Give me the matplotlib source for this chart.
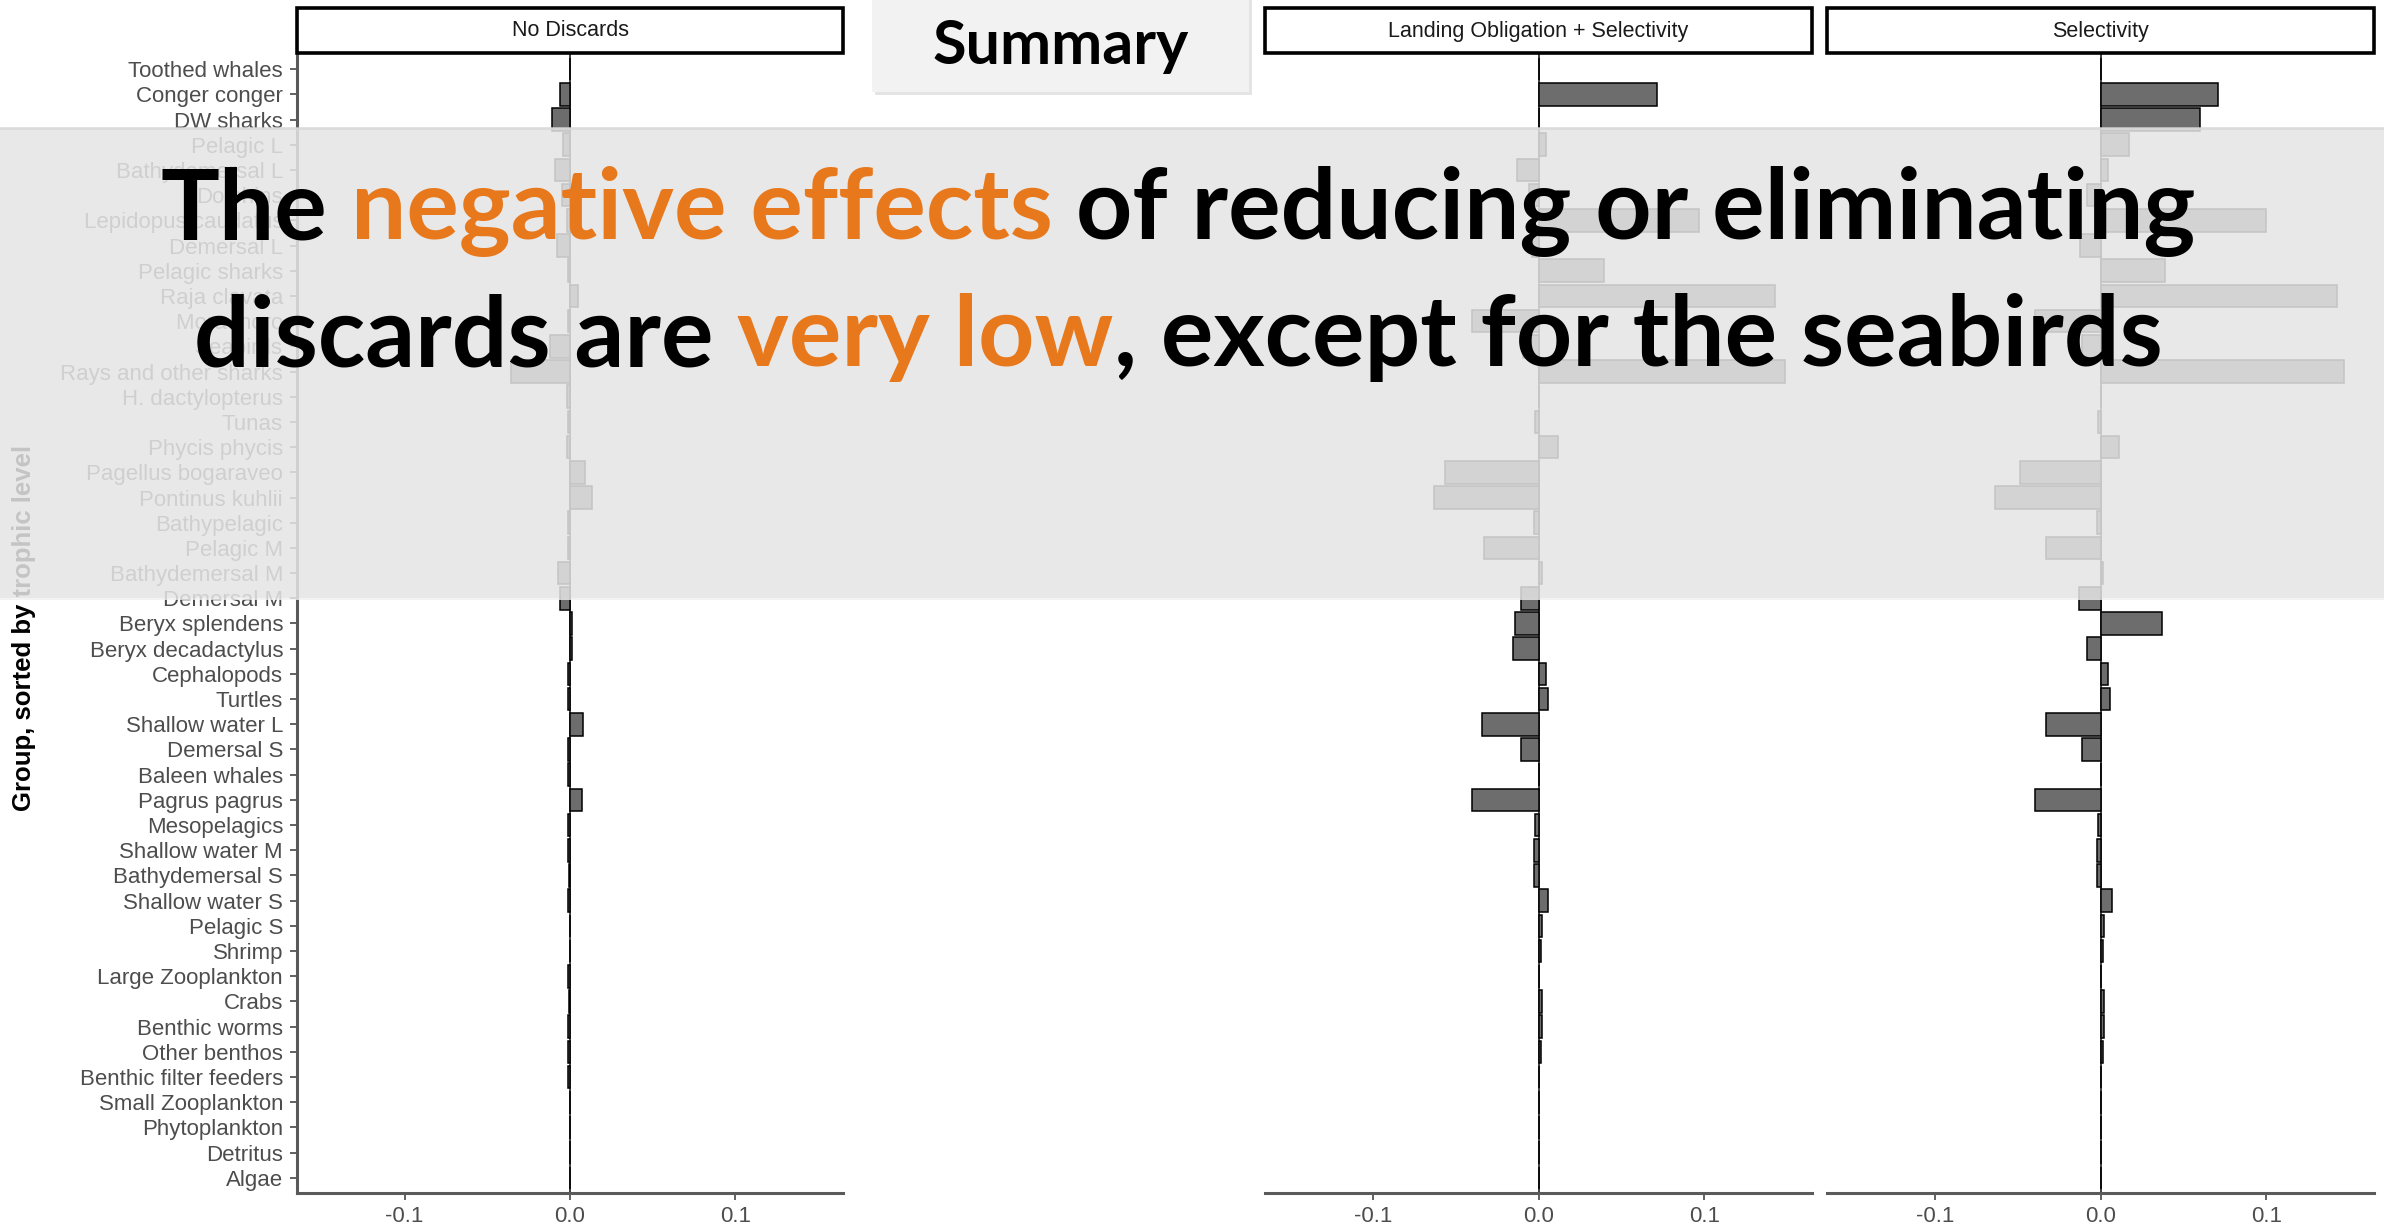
import matplotlib.pyplot as plt
from matplotlib.patches import Rectangle
import numpy as np

# functional groups, sorted by trophic level (top to bottom)
groups = ['Toothed whales', 'Conger conger', 'DW sharks', 'Pelagic L', 'Bathydemersal L',
          'Dolphins', 'Lepidopus caudatus', 'Demersal L', 'Pelagic sharks', 'Raja clavata',
          'Mora moro', 'Seabirds', 'Rays and other sharks', 'H. dactylopterus', 'Tunas',
          'Phycis phycis', 'Pagellus bogaraveo', 'Pontinus kuhlii', 'Bathypelagic', 'Pelagic M',
          'Bathydemersal M', 'Demersal M', 'Beryx splendens', 'Beryx decadactylus', 'Cephalopods',
          'Turtles', 'Shallow water L', 'Demersal S', 'Baleen whales', 'Pagrus pagrus',
          'Mesopelagics', 'Shallow water M', 'Bathydemersal S', 'Shallow water S', 'Pelagic S',
          'Shrimp', 'Large Zooplankton', 'Crabs', 'Benthic worms', 'Other benthos',
          'Benthic filter feeders', 'Small Zooplankton', 'Phytoplankton', 'Detritus', 'Algae']

no_discards = [0, -0.006, -0.011, -0.004, -0.009, -0.005, -0.002, -0.008, -0.001, 0.0046,
               -0.001, -0.012, -0.0355, -0.002, -0.001, -0.002, 0.009, 0.0135, -0.001, -0.001,
               -0.007, -0.006, 0.001, 0.001, -0.001, -0.001, 0.008, -0.001, -0.001, 0.007,
               -0.001, -0.001, -0.0005, -0.001, 0, 0, -0.001, -0.0005, -0.001, -0.001,
               -0.001, 0, 0, 0, 0]

lo_selectivity = [0.0004, 0.0717, 0.0005, 0.0044, -0.0127, -0.006, 0.097, -0.004, 0.0396, 0.1426,
                  -0.040, -0.0096, 0.149, 0, -0.002, 0.0115, -0.0562, -0.0633, -0.003, -0.0331,
                  0.0024, -0.0107, -0.014, -0.0153, 0.0044, 0.0058, -0.0343, -0.0106, 0, -0.0402,
                  -0.002, -0.003, -0.003, 0.0058, 0.0024, 0.0014, 0, 0.0024, 0.0024, 0.0014,
                  0, 0, 0, 0, 0]

selectivity = [0.0004, 0.0709, 0.0598, 0.0169, 0.0046, -0.0084, 0.1, -0.0125, 0.0392, 0.1426,
               -0.0396, -0.0114, 0.1466, 0, -0.0016, 0.0114, -0.0488, -0.0637, -0.0024, -0.0331,
               0.0014, -0.0127, 0.0372, -0.008, 0.0046, 0.0056, -0.0327, -0.0114, 0, -0.0398,
               -0.0016, -0.0024, -0.0024, 0.007, 0.0024, 0.0014, 0, 0.0024, 0.0024, 0.0014,
               0, 0, 0, 0, 0]

panel_titles = ['No Discards', 'Landing Obligation + Selectivity', 'Selectivity']
x_ticks = [-0.1, 0.0, 0.1]
x_ticklabels = ['-0.1', '0.0', '0.1']

headline = [
    [('The ', 'k'), ('negative effects', 'o'), (' of reducing or eliminating', 'k')],
    [('discards are ', 'k'), ('very low', 'o'), (', except for the seabirds', 'k')],
]

W, H = 2384, 1231
fig = plt.figure(figsize=(W / 100, H / 100), dpi=100)
fig.patch.set_facecolor('white')


def fx(px):
    return px / W


def fy(py):
    return 1 - py / H


label_font = ['Liberation Sans', 'DejaVu Sans']
grey_txt = '#4d4d4d'

panel_x = [(297, 843), (1265, 1812), (1827, 2374)]
top, bottom = 54, 1193
ypos = np.arange(len(groups))

for k, (vals, title, (x0, x1)) in enumerate(zip([no_discards, lo_selectivity, selectivity],
                                                 panel_titles, panel_x)):
    ax = fig.add_axes([fx(x0), fy(bottom), fx(x1 - x0), (bottom - top) / H])
    ax.barh(ypos, vals, height=0.9, color='#6d6d6d', edgecolor='black', linewidth=1.1, zorder=3)
    ax.axvline(0, color='#303030', lw=1.3, zorder=2)
    ax.set_xlim(-0.165, 0.165)
    ax.set_ylim(len(groups) - 0.4, -0.6)
    for s in ['top', 'right']:
        ax.spines[s].set_visible(False)
    ax.spines['bottom'].set_color('#5a5a5a')
    ax.spines['bottom'].set_linewidth(2.2)
    ax.set_xticks(x_ticks)
    ax.set_xticklabels(x_ticklabels, family=label_font, fontsize=16, color=grey_txt)
    ax.tick_params(axis='x', length=5, width=1.3, color='#555555', pad=4)
    if k == 0:
        ax.spines['left'].set_color('#5a5a5a')
        ax.spines['left'].set_linewidth(2.2)
        ax.set_yticks(ypos)
        ax.set_yticklabels(groups, family=label_font, fontsize=16, color=grey_txt)
        ax.tick_params(axis='y', length=5, width=1.3, color='#555555', pad=5)
    else:
        ax.spines['left'].set_visible(False)
        ax.set_yticks([])

    # facet strip
    fig.add_artist(Rectangle((fx(x0), fy(53)), fx(x1 - x0), 45 / H, transform=fig.transFigure,
                             facecolor='white', edgecolor='black', lw=2.6, zorder=2))
    fig.text(fx((x0 + x1) / 2), fy(31), title, ha='center', va='center',
             family=label_font, fontsize=15.5, color='#1a1a1a', zorder=3)

fig.text(fx(24), fy(628), 'Group, sorted by trophic level', rotation=90, ha='center', va='center',
         family=label_font, fontsize=18.5, fontweight='bold', color='black', zorder=3)

# "Summary" box
fig.add_artist(Rectangle((fx(875), fy(95)), fx(377), 95 / H, transform=fig.transFigure,
                         facecolor='#e4e4e4', edgecolor='none', zorder=2))
fig.add_artist(Rectangle((fx(872), fy(92)), fx(377), 92 / H, transform=fig.transFigure,
                         facecolor='#f2f2f2', edgecolor='none', zorder=2))
fig.text(fx(1061), fy(64), 'Summary', ha='center', va='baseline', family=['Lato', 'DejaVu Sans'],
         fontweight='bold', fontsize=44, color='black', zorder=3)

# translucent band over the top part of the chart
fig.add_artist(Rectangle((0, fy(598)), 1, 470 / H, transform=fig.transFigure,
                         facecolor='#e5e5e5', alpha=0.86, edgecolor='none', zorder=5))
fig.add_artist(Rectangle((0, fy(130)), 1, 3 / H, transform=fig.transFigure,
                         facecolor='#d6d6d6', alpha=0.7, edgecolor='none', zorder=5))
fig.add_artist(Rectangle((0, fy(600)), 1, 2 / H, transform=fig.transFigure,
                         facecolor='#f0f0f0', alpha=0.8, edgecolor='none', zorder=5))

# headline, mixed colours on one line
renderer = fig.canvas.get_renderer()
colors = {'k': '#000000', 'o': '#E8781C'}
head_kw = dict(family=['Lato', 'DejaVu Sans'], fontweight='bold')


def text_width(s, size):
    t = fig.text(0, 0, s, fontsize=size, **head_kw)
    w = t.get_window_extent(renderer).width
    t.remove()
    return w


line1 = ''.join(s for s, c in headline[0])
size = 100 * 2036 / text_width(line1, 100)
bar_w = text_width('|', size)

for segs, base in zip(headline, [239, 366]):
    full = ''.join(s for s, c in segs)
    x_start = 1178 - text_width(full, size) / 2
    prefix = ''
    for s, c in segs:
        lead = len(s) - len(s.lstrip())
        pre = prefix + s[:lead]
        off = text_width(pre + '|', size) - bar_w if pre else 0
        fig.text(fx(x_start + off), fy(base), s.strip(), ha='left', va='baseline',
                 fontsize=size, color=colors[c], zorder=6, **head_kw)
        prefix += s

fig.savefig('out.png', dpi=100)
